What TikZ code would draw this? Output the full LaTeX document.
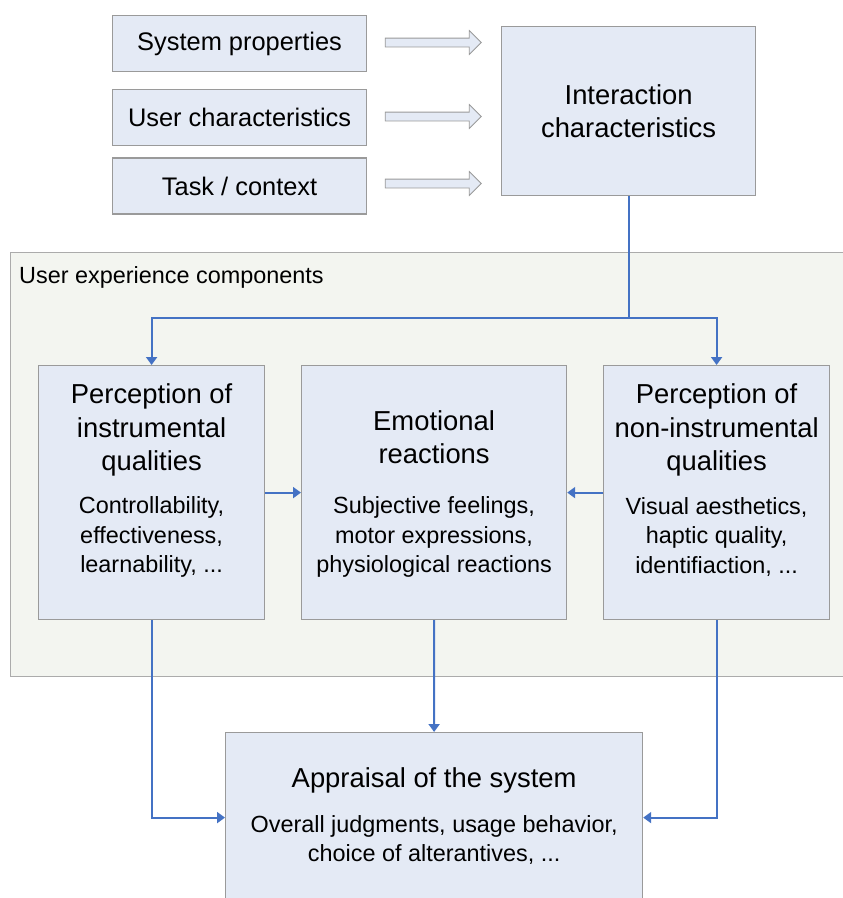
\documentclass[tikz,border=0pt]{standalone}
\usepackage{fontspec}
\setmainfont{Liberation Sans}
\usetikzlibrary{positioning,shapes.arrows,arrows.meta}
\definecolor{boxfill}{HTML}{E4EAF5}
\definecolor{boxline}{HTML}{9A9A9A}
\definecolor{panelfill}{HTML}{F3F5F0}
\definecolor{panelline}{HTML}{ABABAB}
\definecolor{linkblue}{HTML}{4472C4}
\newcommand{\titlesize}{\fontsize{27.5}{33.5}\selectfont}
\newcommand{\bodysize}{\fontsize{23.5}{29.5}\selectfont}
\newcommand{\inputsize}{\fontsize{25.5}{30}\selectfont}

\begin{document}
\begin{tikzpicture}[x=1bp, y=-1bp, >={Triangle[length=8bp,width=11bp]},
    box/.style={draw=boxline, fill=boxfill, line width=1.2bp, inner sep=0pt, anchor=north west},
    inputbox/.style={box, minimum width=254bp, minimum height=56bp, font=\inputsize},
    bigbox/.style={box, minimum height=254bp},
    panel/.style={draw=panelline, fill=panelfill, line width=1.2bp, inner sep=0pt, anchor=north west},
    title/.style={align=center, inner sep=0pt, font=\titlesize},
    body/.style={align=center, inner sep=0pt, font=\bodysize},
    link/.style={draw=linkblue, line width=2bp},
    fat/.style={single arrow, draw=boxline, fill=boxfill, line width=0.8bp,
        inner xsep=0pt, inner ysep=4bp, minimum height=96bp,
        single arrow head extend=7.5bp, single arrow head indent=0pt}]
    \useasboundingbox (0,0) rectangle (843,898);

    % Inputs
    \node [inputbox] (sysprop) at (112,15) {System properties};
    \node [inputbox, below=17bp of sysprop.south west, anchor=north west] (userchar) {User characteristics};
    \node [inputbox, below=11bp of userchar.south west, anchor=north west] (task) {Task / context};
    \node [box, minimum width=254bp, minimum height=169bp, align=center, font=\titlesize] (inter) at (501,26)
        {Interaction\\characteristics};

    % Hollow arrows
    \node [fat] (fat1) at (431,42.5) {};
    \node [fat] (fat2) at (431,116.5) {};
    \node [fat] (fat3) at (431,183.5) {};

    % UX components panel
    \node [panel, minimum width=845bp, minimum height=424bp] (uxpanel) at (10,252) {};
    \node [anchor=west, inner sep=0pt, font=\bodysize] (uxlabel) at (19,277) {User experience components};

    \node [bigbox, minimum width=226bp] (instr) at (38,365) {};
    \node [bigbox, minimum width=265bp] (emo) at (301,365) {};
    \node [bigbox, minimum width=226bp] (noninstr) at (603,365) {};

    \node [title] (instr-title) at (instr.center |- 0,430) {Perception of\\instrumental\\qualities};
    \node [body] (instr-body) at (instr.center |- 0,537) {Controllability,\\effectiveness,\\learnability, ...};
    \node [title] (emo-title) at (emo.center |- 0,437) {Emotional\\reactions};
    \node [body] (emo-body) at (emo.center |- 0,537) {Subjective feelings,\\motor expressions,\\physiological reactions};
    \node [title] (noninstr-title) at (noninstr.center |- 0,430) {Perception of\\non-instrumental\\qualities};
    \node [body] (noninstr-body) at (noninstr.center |- 0,537) {Visual aesthetics,\\haptic quality,\\identifiaction, ...};

    % Appraisal
    \node [box, minimum width=417bp, minimum height=170bp] (appr) at (225,732) {};
    \node [title] (appr-title) at (appr.center |- 0,780) {Appraisal of the system};
    \node [body] (appr-body) at (appr.center |- 0,840) {Overall judgments, usage behavior,\\choice of alterantives, ...};

    % Links
    \coordinate (split) at (inter.south |- 0,318);
    \draw [link] (inter.south) -- (split);
    \draw [link, ->] (split) -| (instr.north);
    \draw [link, ->] (split) -| (noninstr.north);
    \draw [link, ->] (instr.east) -- (emo.west);
    \draw [link, ->] (noninstr.west) -- (emo.east);
    \draw [link, ->] (emo.south) -- (appr.north);
    \draw [link, ->] (instr.south) |- (appr.west);
    \draw [link, ->] (noninstr.south) |- (appr.east);
\end{tikzpicture}
\end{document}
